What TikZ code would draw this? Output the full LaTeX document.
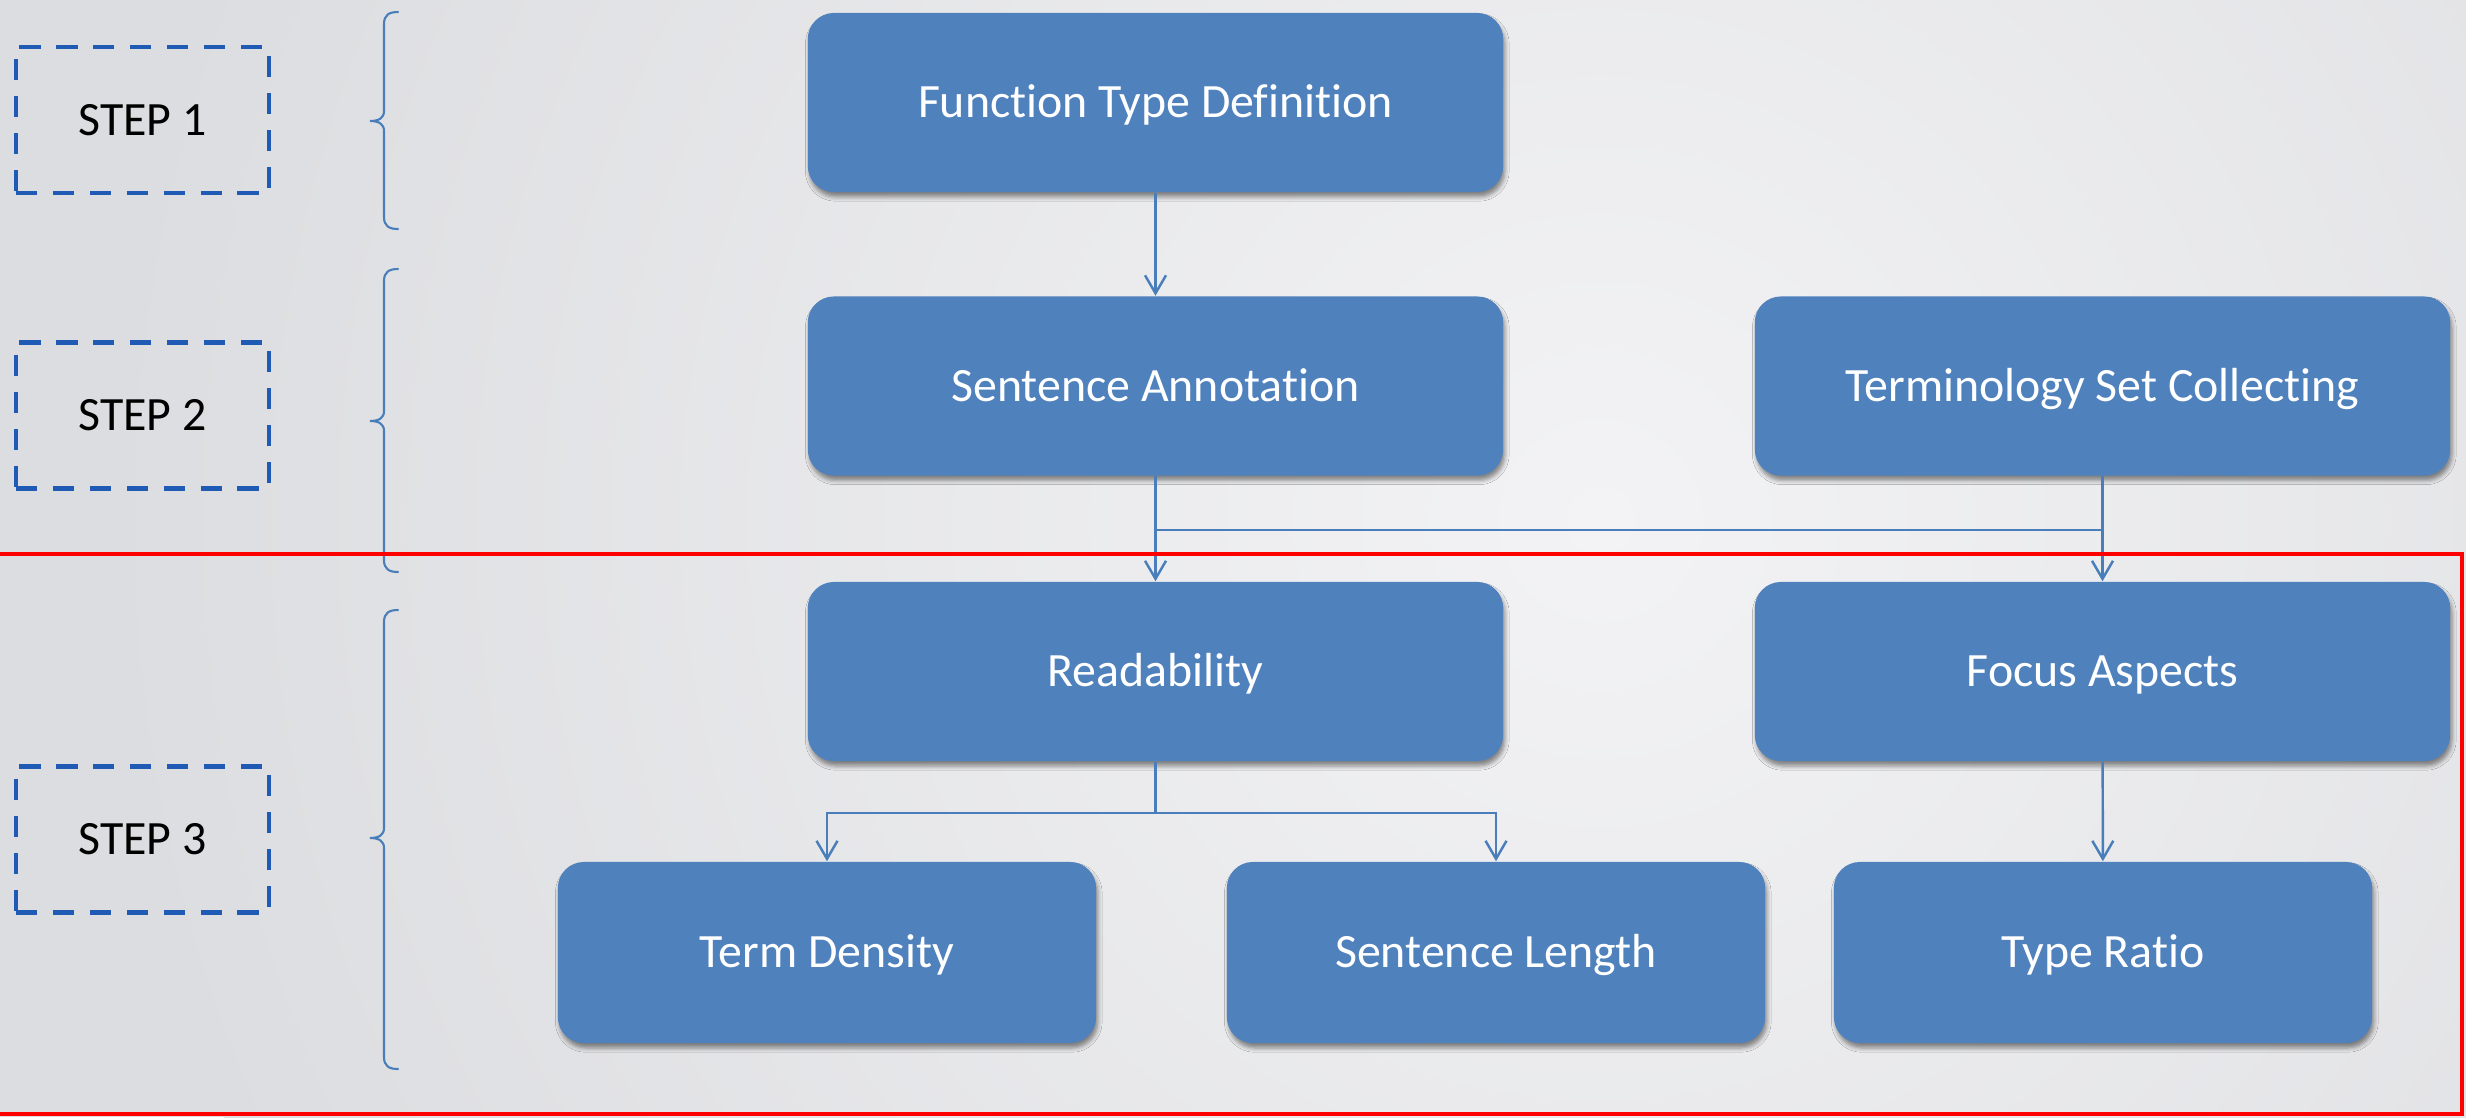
\documentclass[tikz,border=0pt]{standalone}
\usepackage{fontspec}
\setmainfont{Carlito}[Ligatures=NoCommon]
\usetikzlibrary{arrows.meta,shadows.blur}

\definecolor{boxblue}{RGB}{79,129,189}
\definecolor{stepblue}{RGB}{31,90,180}
\definecolor{lineblue}{RGB}{74,126,187}
\definecolor{bglight}{RGB}{243,243,245}
\definecolor{bgdark}{RGB}{220,221,224}
\definecolor{redframe}{RGB}{255,0,0}

\newcommand{\boxfont}{\fontsize{13.6pt}{16pt}\selectfont}

\tikzset{
  procbox/.style={rectangle, rounded corners=0.26cm, fill=boxblue, text=white,
    font=\boxfont, inner sep=0pt, text height=8.6pt, text depth=0pt,
    minimum width=6.95cm, minimum height=1.79cm,
    blur shadow={shadow xshift=0.5pt, shadow yshift=-1.4pt, shadow blur radius=1.2pt, shadow opacity=45}},
  leafbox/.style={procbox, minimum width=5.38cm, minimum height=1.81cm},
  stepbox/.style={rectangle, draw=stepblue, line width=1.3pt,
    dash pattern=on 6pt off 4.5pt, text=black, font=\boxfont,
    inner sep=0pt, text height=8.6pt, text depth=0pt,
    minimum width=2.53cm, minimum height=1.46cm},
  conn/.style={draw=lineblue, line width=0.7pt},
  arr/.style={conn, -{Straight Barb[length=0.18cm,width=0.21cm]}},
  bracket/.style={draw=lineblue, line width=0.6pt, line cap=round},
}

% curly bracket: vertical stroke at x=384, tip pointing left
\newcommand{\stepbrace}[3]{%
  \draw[bracket] (398,#1) .. controls (389,#1) and (384,#1+3) .. (384,#1+12)
    -- (384,#3-10) .. controls (384,#3-3) and (379,#3) .. (370,#3)
    .. controls (379,#3) and (384,#3+3) .. (384,#3+10)
    -- (384,#2-12) .. controls (384,#2-3) and (389,#2) .. (398,#2);}

\begin{document}
\begin{tikzpicture}[x=0.01cm, y=-0.01cm]
  % page and paper-like background
  \useasboundingbox (0,0) rectangle (2466,1117);
  \begin{scope}
    \clip (0,0) rectangle (2466,1117);
    \fill[bgdark] (0,0) rectangle (2466,1117);
    \shade[inner color=bglight, outer color=bgdark] (1600,520) circle (1500);
  \end{scope}

  % step labels
  \node[stepbox] (s1) at (142.5,120) {STEP 1};
  \node[stepbox] (s2) at (142.5,415.5) {STEP 2};
  \node[stepbox] (s3) at (142.5,839.5) {STEP 3};

  % brackets grouping each step
  \stepbrace{12}{229}{121}
  \stepbrace{269}{572}{421}
  \stepbrace{610}{1069}{838}

  % process boxes
  \node[procbox] (ftd) at (1155.5,102.5) {Function Type Definition};
  \node[procbox] (sa)  at (1155.5,386) {Sentence Annotation};
  \node[procbox] (tsc) at (2102.5,386) {Terminology Set Collecting};
  \node[procbox] (rd)  at (1155.5,671.5) {Readability};
  \node[procbox] (fa)  at (2102.5,671.5) {Focus Aspects};
  \node[leafbox] (td)  at (827,952.5) {Term Density};
  \node[leafbox] (sl)  at (1496,952.5) {Sentence Length};
  \node[leafbox] (tr)  at (2103,952.5) {Type Ratio};

  % junction points
  \coordinate (j1) at (1155.5,530);
  \coordinate (j2) at (1155.5,813);

  % connectors
  \draw[arr] (ftd) -- (sa);
  \draw[arr] (sa) -- (rd);
  \draw[conn] (j1) -- (tsc.south |- j1);
  \draw[arr] (tsc) -- (fa);
  \draw[conn] (rd.south) -- (j2);
  \draw[arr] (j2) -| (td.north);
  \draw[arr] (j2) -| (sl.north);
  \draw[arr] (fa) -- (tr);

  % highlighted region of step 3
  \draw[redframe, line width=1.4pt] (-20,554) -- (2462,554) -- (2462,1114) -- (-20,1114);
\end{tikzpicture}
\end{document}
